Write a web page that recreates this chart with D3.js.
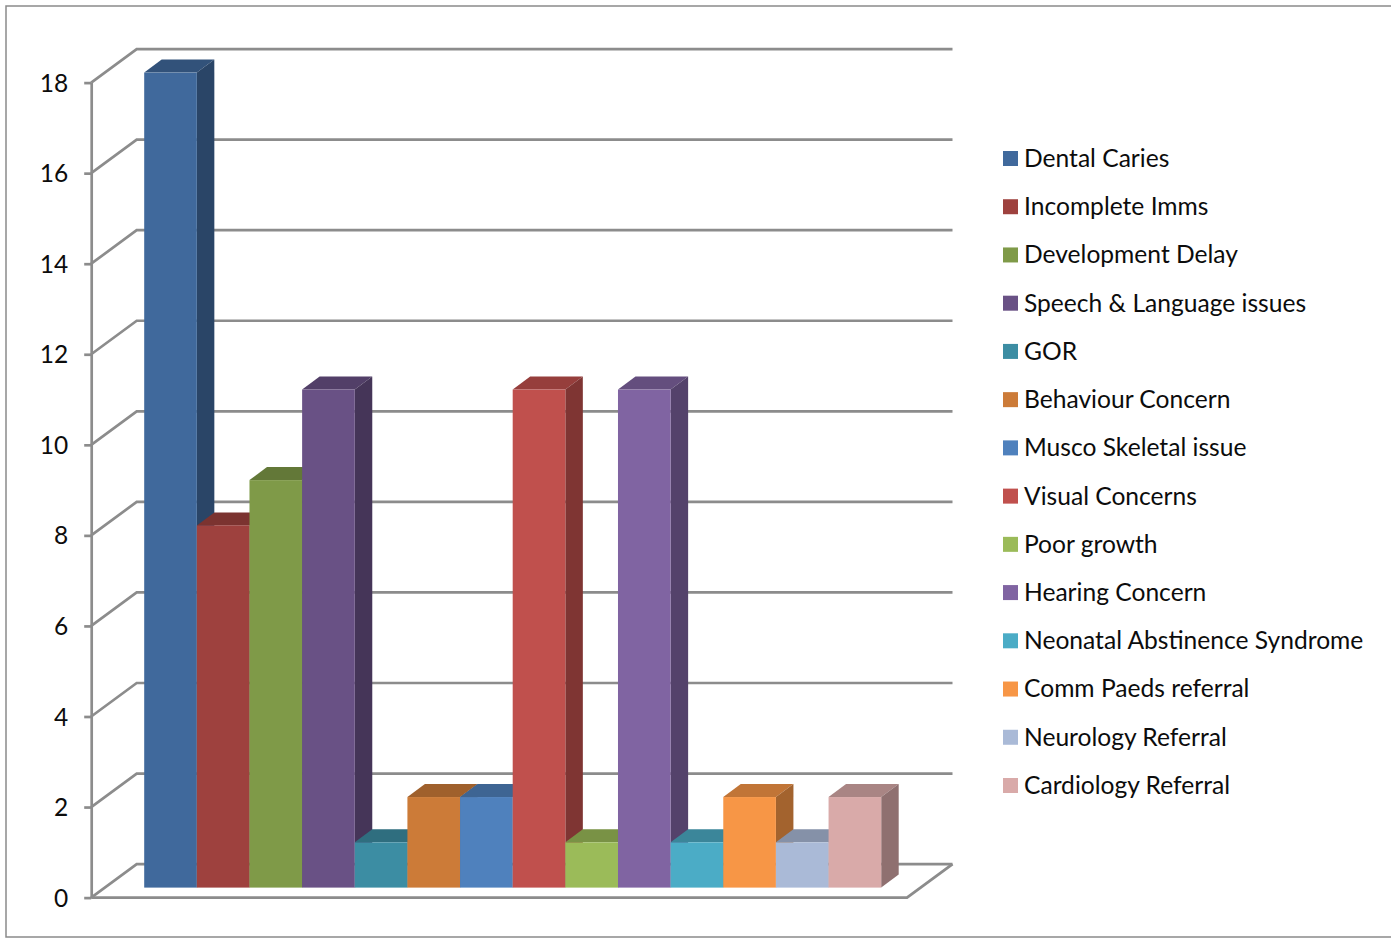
<!DOCTYPE html>
<html><head><meta charset="utf-8">
<script src="https://cdn.jsdelivr.net/npm/d3@7/dist/d3.min.js"></script>
<style>html,body{margin:0;padding:0;background:#fff;overflow:hidden}svg{display:block}
text{font-family:Lato,"Open Sans",sans-serif;fill:#0c0c0c}</style></head><body>
<svg id="c" width="1391" height="944"></svg>
<script>
const categories=["Dental Caries","Incomplete Imms","Development Delay","Speech & Language issues","GOR","Behaviour Concern","Musco Skeletal issue","Visual Concerns","Poor growth","Hearing Concern","Neonatal Abstinence Syndrome","Comm Paeds referral","Neurology Referral","Cardiology Referral"];
const values=[18,8,9,11,1,2,2,11,1,11,1,2,1,2];
const colors=["#40699c","#9e413e","#7f9a48","#695185","#3c8da3","#cc7b38","#4f81bd","#c0504d","#9bbb59","#8064a2","#4bacc6","#f79646","#aabad7","#d9aaa9"];
const yTicks=[0,2,4,6,8,10,12,14,16,18];

const svg=d3.select("#c");
const grid="#8c8c8c";
const shade=(c,k)=>{const r=d3.rgb(c);return d3.rgb(r.r*k,r.g*k,r.b*k).formatHex();};
// frame
svg.append("rect").attr("x",6).attr("y",6).attr("width",1400).attr("height",931).attr("fill","#fff").attr("stroke","#8a8a8a").attr("stroke-width",1.5);

const y=d3.scaleLinear().domain([0,18]).range([897.6,82.6]);
const floorDx=45.5,floorDy=-33.5;
const frontL=91.2,frontR=907;
const g=svg.append("g");
// back wall lines and side wall diagonals
yTicks.forEach(t=>{
  g.append("path").attr("d",d3.line()([[frontL,y(t)],[frontL+floorDx,y(t)+floorDy],[frontR+floorDx,y(t)+floorDy]]))
   .attr("fill","none").attr("stroke",grid).attr("stroke-width",2.7);
});
// floor
g.append("path").attr("d",d3.line()([[frontL,y(0)],[frontR,y(0)],[frontR+floorDx,y(0)+floorDy]]))
  .attr("fill","none").attr("stroke",grid).attr("stroke-width",2.9);
// axis
const axis=d3.axisLeft(y).tickValues(yTicks).tickSize(7).tickPadding(16).tickSizeOuter(0);
const ax=svg.append("g").attr("transform",`translate(${frontL},0)`).call(axis);
ax.selectAll("path,line").attr("stroke",grid).attr("stroke-width",2.7);
ax.selectAll("text").attr("font-size",24.5).attr("dy","0.35em").style("font-family","Lato");

// bars
const x=d3.scaleBand().domain(categories).range([144.2,881.2]).padding(0);
const bw=x.bandwidth(),bdx=17.5,bdy=-13,baseShift=-10;
const barsG=svg.append("g");
categories.forEach((c,i)=>{
  const x0=x(c),x1=x0+bw,top=y(values[i])+baseShift,bot=y(0)+baseShift;
  const line=d3.line();
  barsG.append("path").attr("d",line([[x0,top],[x1,top],[x1+bdx,top+bdy],[x0+bdx,top+bdy]])+"Z").attr("fill",shade(colors[i],.78));
  barsG.append("path").attr("d",line([[x1,top],[x1+bdx,top+bdy],[x1+bdx,bot+bdy],[x1,bot]])+"Z").attr("fill",shade(colors[i],.66));
  barsG.append("rect").attr("x",x0).attr("y",top).attr("width",bw).attr("height",bot-top).attr("fill",colors[i]);
});

// legend
const ly=d3.scalePoint().domain(categories).range([158.5,785.5]);
const leg=svg.append("g").selectAll("g").data(categories).join("g").attr("transform",d=>`translate(1003,${ly(d)})`);
leg.append("rect").attr("x",0).attr("y",-7.5).attr("width",15).attr("height",15).attr("fill",(d,i)=>colors[i]);
leg.append("text").attr("x",21).attr("y",8.4).attr("font-size",24.6).text(d=>d);
</script></body></html>
